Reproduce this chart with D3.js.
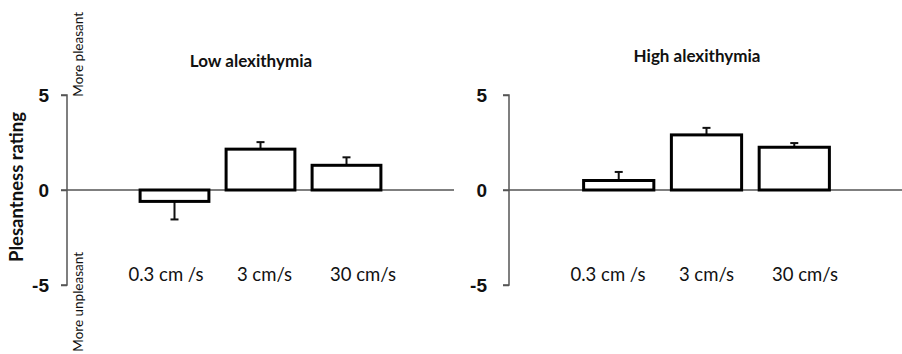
<!DOCTYPE html>
<html>
<head>
<meta charset="utf-8">
<script src="https://cdn.jsdelivr.net/npm/d3@7"></script>
<style>
  body { margin: 0; background: #fff; }
  svg { display: block; font-family: Lato, "Open Sans", sans-serif; }
</style>
</head>
<body>
<div id="chart"></div>
<script>
const width = 902
const height = 354

// datos
const categories = ["0.3 cm /s", "3 cm/s", "30 cm/s"]
const lowMeans = [-0.6, 2.15, 1.3]
const lowErrors = [0.95, 0.37, 0.42]
const highMeans = [0.5, 2.9, 2.25]
const highErrors = [0.45, 0.37, 0.22]
const yTicks = [-5, 0, 5]
const panelTitles = ["Low alexithymia", "High alexithymia"]

const panels = [
    {title: panelTitles[0], means: lowMeans, errors: lowErrors, x0: 67, x1: 454, titleX: 251, titleY: 63, tickPad: 12},
    {title: panelTitles[1], means: highMeans, errors: highErrors, x0: 509, x1: 904, titleX: 697, titleY: 58, tickPad: 16},
]

const y = d3.scaleLinear().domain([-5, 5]).range([285, 95])

const svg = d3.select('#chart').append('svg').attr('width', width).attr('height', height)

panels.forEach(p => {
    const g = svg.append('g').attr('class', 'panel')

    // escala de barras
    const x = d3.scaleBand().domain(categories).range([p.x0, p.x1]).paddingInner(0.2).paddingOuter(0.85)
    // escala de las etiquetas (cuadro de texto aparte en el original)
    const xLabel = d3.scalePoint().domain(categories).range([p.x0 + 99, p.x0 + 296])

    // eje y
    const yAxis = d3.axisLeft(y).tickValues(yTicks).tickSize(6).tickPadding(p.tickPad).tickFormat(d3.format('d'))
    const yAxisGroup = g.append('g').attr('transform', `translate(${p.x0}, 0)`).call(yAxis)
    yAxisGroup.select('.domain').attr('stroke', '#555').attr('stroke-width', 1.5).attr('d', `M-6,${y(5)}H0V${y(-5)}H-6`)
    yAxisGroup.selectAll('.tick line').attr('stroke', '#555').attr('stroke-width', 1.5)
    yAxisGroup.selectAll('.tick text')
        .attr('fill', '#111').style('font-size', '19px').style('font-weight', 'bold')
        .text(d => d < 0 ? '-' + Math.abs(d) : d)

    // linea del cero
    g.append('line')
        .attr('x1', p.x0 - 6).attr('x2', p.x1)
        .attr('y1', y(0)).attr('y2', y(0))
        .attr('stroke', '#555').attr('stroke-width', 1.5)

    const data = categories.map((c, i) => ({cat: c, v: p.means[i], e: p.errors[i]}))

    // barras de error
    g.selectAll('line.err').data(data).enter().append('line')
        .attr('class', 'err')
        .attr('x1', d => x(d.cat) + x.bandwidth() / 2).attr('x2', d => x(d.cat) + x.bandwidth() / 2)
        .attr('y1', d => y(d.v)).attr('y2', d => y(d.v + Math.sign(d.v) * d.e))
        .attr('stroke', '#111').attr('stroke-width', 2)
    g.selectAll('line.cap').data(data).enter().append('line')
        .attr('class', 'cap')
        .attr('x1', d => x(d.cat) + x.bandwidth() / 2 - 4).attr('x2', d => x(d.cat) + x.bandwidth() / 2 + 4)
        .attr('y1', d => y(d.v + Math.sign(d.v) * d.e)).attr('y2', d => y(d.v + Math.sign(d.v) * d.e))
        .attr('stroke', '#111').attr('stroke-width', 2)

    // barras
    g.selectAll('rect').data(data).enter().append('rect')
        .attr('x', d => x(d.cat))
        .attr('y', d => y(Math.max(0, d.v)))
        .attr('width', x.bandwidth())
        .attr('height', d => Math.abs(y(d.v) - y(0)))
        .attr('fill', '#fff').attr('stroke', '#000').attr('stroke-width', 3)

    // etiquetas de categoria
    g.selectAll('text.cat').data(categories).enter().append('text')
        .attr('class', 'cat')
        .attr('x', d => xLabel(d)).attr('y', 276)
        .attr('text-anchor', 'middle').attr('dominant-baseline', 'middle')
        .style('font-size', '18.5px').attr('fill', '#111')
        .text(d => d)

    // titulo
    g.append('text')
        .attr('x', p.titleX).attr('y', p.titleY)
        .attr('text-anchor', 'middle').attr('dominant-baseline', 'middle')
        .style('font-size', '17px').style('font-weight', 'bold').attr('fill', '#111')
        .text(p.title)
})

// titulo del eje y
svg.append('text')
    .attr('transform', 'translate(18, 187) rotate(-90)')
    .attr('text-anchor', 'middle').attr('dominant-baseline', 'middle')
    .style('font-size', '18.5px').style('font-weight', 'bold').attr('fill', '#111')
    .text('Plesantness rating')

svg.append('text')
    .attr('transform', 'translate(80, 12) rotate(-90)')
    .attr('text-anchor', 'end').attr('dominant-baseline', 'middle')
    .style('font-size', '13.5px').attr('fill', '#111')
    .text('More pleasant')

svg.append('text')
    .attr('transform', 'translate(80, 252) rotate(-90)')
    .attr('text-anchor', 'end').attr('dominant-baseline', 'middle')
    .style('font-size', '13.5px').attr('fill', '#111')
    .text('More unpleasant')
</script>
</body>
</html>
